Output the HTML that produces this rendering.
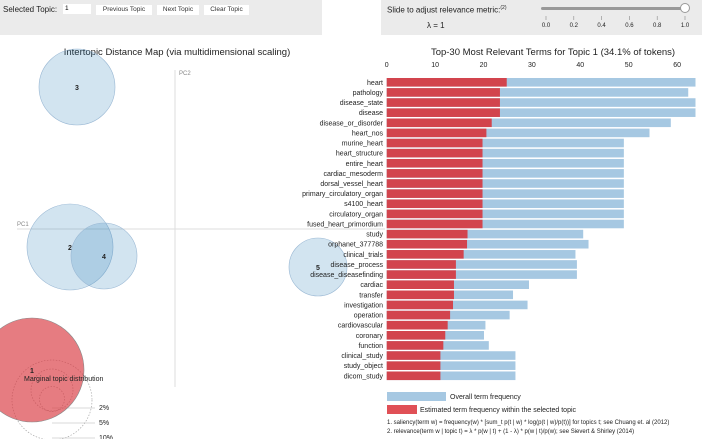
<!DOCTYPE html>
<html><head><meta charset="utf-8"><style>
body{margin:0;width:702px;height:439px;overflow:hidden;background:#fff;font-family:"Liberation Sans",sans-serif;}
.panel{position:absolute;top:0;height:35px;background:#ebebeb;}
.btn{position:absolute;top:5px;height:10px;font-size:6.5px;line-height:10px;text-align:center;background:#fff;color:#333;}
</style></head><body>
<div class="panel" style="left:0;width:322px;">
 <span style="position:absolute;left:3px;top:5px;font-size:8px;color:#222;">Selected Topic:</span>
 <div style="position:absolute;left:63px;top:4px;width:26px;height:10px;background:#fff;font-size:6.5px;line-height:10px;padding-left:2px;">1</div>
 <div class="btn" style="left:96px;width:56px;">Previous Topic</div>
 <div class="btn" style="left:157px;width:42px;">Next Topic</div>
 <div class="btn" style="left:204px;width:45px;">Clear Topic</div>
</div>
<div class="panel" style="left:381px;width:321px;">
 <span style="position:absolute;left:6px;top:5px;font-size:8px;color:#222;">Slide to adjust relevance metric:<sup style="font-size:5px">(2)</sup></span>
 <span style="position:absolute;left:46px;top:21px;font-size:8px;color:#222;">λ = 1</span>
 <div style="position:absolute;left:160px;top:7px;width:145px;height:3px;background:#999;border-radius:2px;"></div>
 <div style="position:absolute;left:299px;top:3px;width:10px;height:10px;box-sizing:border-box;background:#fff;border:1px solid #999;border-radius:50%;"></div>
</div>
<svg id="s" width="702" height="439" style="position:absolute;left:0;top:0" font-family="Liberation Sans, sans-serif"></svg>
<script>
const terms=["heart","pathology","disease_state","disease","disease_or_disorder","heart_nos","murine_heart","heart_structure","entire_heart","cardiac_mesoderm","dorsal_vessel_heart","primary_circulatory_organ","s4100_heart","circulatory_organ","fused_heart_primordium","study","orphanet_377788","clinical_trials","disease_process","disease_diseasefinding","cardiac","transfer","investigation","operation","cardiovascular","coronary","function","clinical_study","study_object","dicom_study"];
const topicFreq=[24.8,23.4,23.4,23.4,21.7,20.6,19.8,19.8,19.8,19.8,19.8,19.8,19.8,19.8,19.8,16.7,16.6,15.9,14.3,14.3,13.9,13.9,13.7,13.1,12.6,12.1,11.7,11.1,11.1,11.1];
const overallFreq=[63.8,62.3,63.8,63.8,58.7,54.3,49.0,49.0,49.0,49.0,49.0,49.0,49.0,49.0,49.0,40.6,41.7,39.0,39.3,39.3,29.4,26.1,29.1,25.4,20.4,20.1,21.1,26.6,26.6,26.6];
const xTicks=[0,10,20,30,40,50,60];
const sliderTicks=[0,0.2,0.4,0.6,0.8,1.0];
const topicIds=[1,2,3,4,5];
const topicX=[32,70,77,104,318];
const topicY=[370,247,87,256,267];
const topicR=[52,43,38,33,29];
const s=document.getElementById('s');
const NS="http://www.w3.org/2000/svg";
function mk(t,a,txt){const e=document.createElementNS(NS,t);for(const k in a)e.setAttribute(k,a[k]);if(txt!=null)e.textContent=txt;s.appendChild(e);return e;}
const x=v=>386.7+v*4.84, y=i=>82.3+i*10.12;
let e=mk('text',{x:177,y:55,'font-size':9.5,'text-anchor':'middle',fill:'#222'},'Intertopic Distance Map (via multidimensional scaling)');

e=mk('line',{x1:175,y1:70,x2:175,y2:387,stroke:'#ddd','stroke-width':1});

e=mk('line',{x1:17,y1:229,x2:385,y2:229,stroke:'#ddd','stroke-width':1});

e=mk('text',{x:17,y:226,'font-size':6,fill:'#888'},'PC1');

e=mk('text',{x:179,y:75,'font-size':6,fill:'#888'},'PC2');

[[52,399,12.5,'2%',410],[52,390,21,'5%',425],[52,400,40,'10%',440]].forEach(c=>{
 e=mk('circle',{cx:c[0],cy:c[1],r:c[2],fill:'none',stroke:'#aaa','stroke-dasharray':'1.5,1.5','stroke-width':0.7});
 
 e=mk('line',{x1:c[0],y1:c[4]-2,x2:95,y2:c[4]-2,stroke:'#ccc','stroke-width':0.7});
 
 e=mk('text',{x:99,y:c[4],'font-size':7,fill:'#222'},c[3]);
 
});
topicIds.forEach((t,i)=>{
 const sel=t===1;
 e=mk('circle',{cx:topicX[i],cy:topicY[i],r:topicR[i],fill:sel?'#d9363e':'#1f77b4','fill-opacity':sel?0.65:0.2,stroke:sel?'#888':'#9ab8d4','stroke-width':0.6});
 
 e=mk('text',{x:topicX[i],y:topicY[i]+3,'font-size':7,'font-weight':'bold','text-anchor':'middle',fill:'#222'},String(t));
 
});
e=mk('text',{x:24,y:381,'font-size':7,fill:'#222'},'Marginal topic distribution');

e=mk('text',{x:553,y:55,'font-size':9.5,'text-anchor':'middle',fill:'#222'},'Top-30 Most Relevant Terms for Topic 1 (34.1% of tokens)');

xTicks.forEach(v=>{
 e=mk('text',{x:x(v),y:67,'font-size':7,'text-anchor':'middle',fill:'#222'},String(v));
 
});
terms.forEach((t,i)=>{
 e=mk('rect',{x:x(0),y:y(i)-4.3,width:x(overallFreq[i])-x(0),height:8.6,fill:'#a6c8e2'});
 
 e=mk('rect',{x:x(0),y:y(i)-4.3,width:x(topicFreq[i])-x(0),height:8.6,fill:'#d2444d'});
 
 e=mk('text',{x:383,y:y(i)+2.5,'font-size':7,'text-anchor':'end',fill:'#222'},t);
 
});
e=mk('rect',{x:387,y:392,width:59,height:9,fill:'#a6c8e2'});

e=mk('text',{x:450,y:399,'font-size':7,fill:'#222'},'Overall term frequency');

e=mk('rect',{x:387,y:405,width:30,height:9,fill:'#e05056'});

e=mk('text',{x:420,y:412,'font-size':7,fill:'#222'},'Estimated term frequency within the selected topic');

e=mk('text',{x:387,y:424,'font-size':6,fill:'#222'},'1. saliency(term w) = frequency(w) * [sum_t p(t | w) * log(p(t | w)/p(t))] for topics t; see Chuang et. al (2012)');

e=mk('text',{x:387,y:433,'font-size':6,fill:'#222'},'2. relevance(term w | topic t) = λ * p(w | t) + (1 - λ) * p(w | t)/p(w); see Sievert & Shirley (2014)');

sliderTicks.forEach(v=>{
 const px=546+v*139;
 e=mk('line',{x1:px,y1:16,x2:px,y2:20,stroke:'#888','stroke-width':0.6});
 
 e=mk('text',{x:px,y:27,'font-size':6,'text-anchor':'middle',fill:'#222'},v.toFixed(1));
 
});
</script>
</body></html>
